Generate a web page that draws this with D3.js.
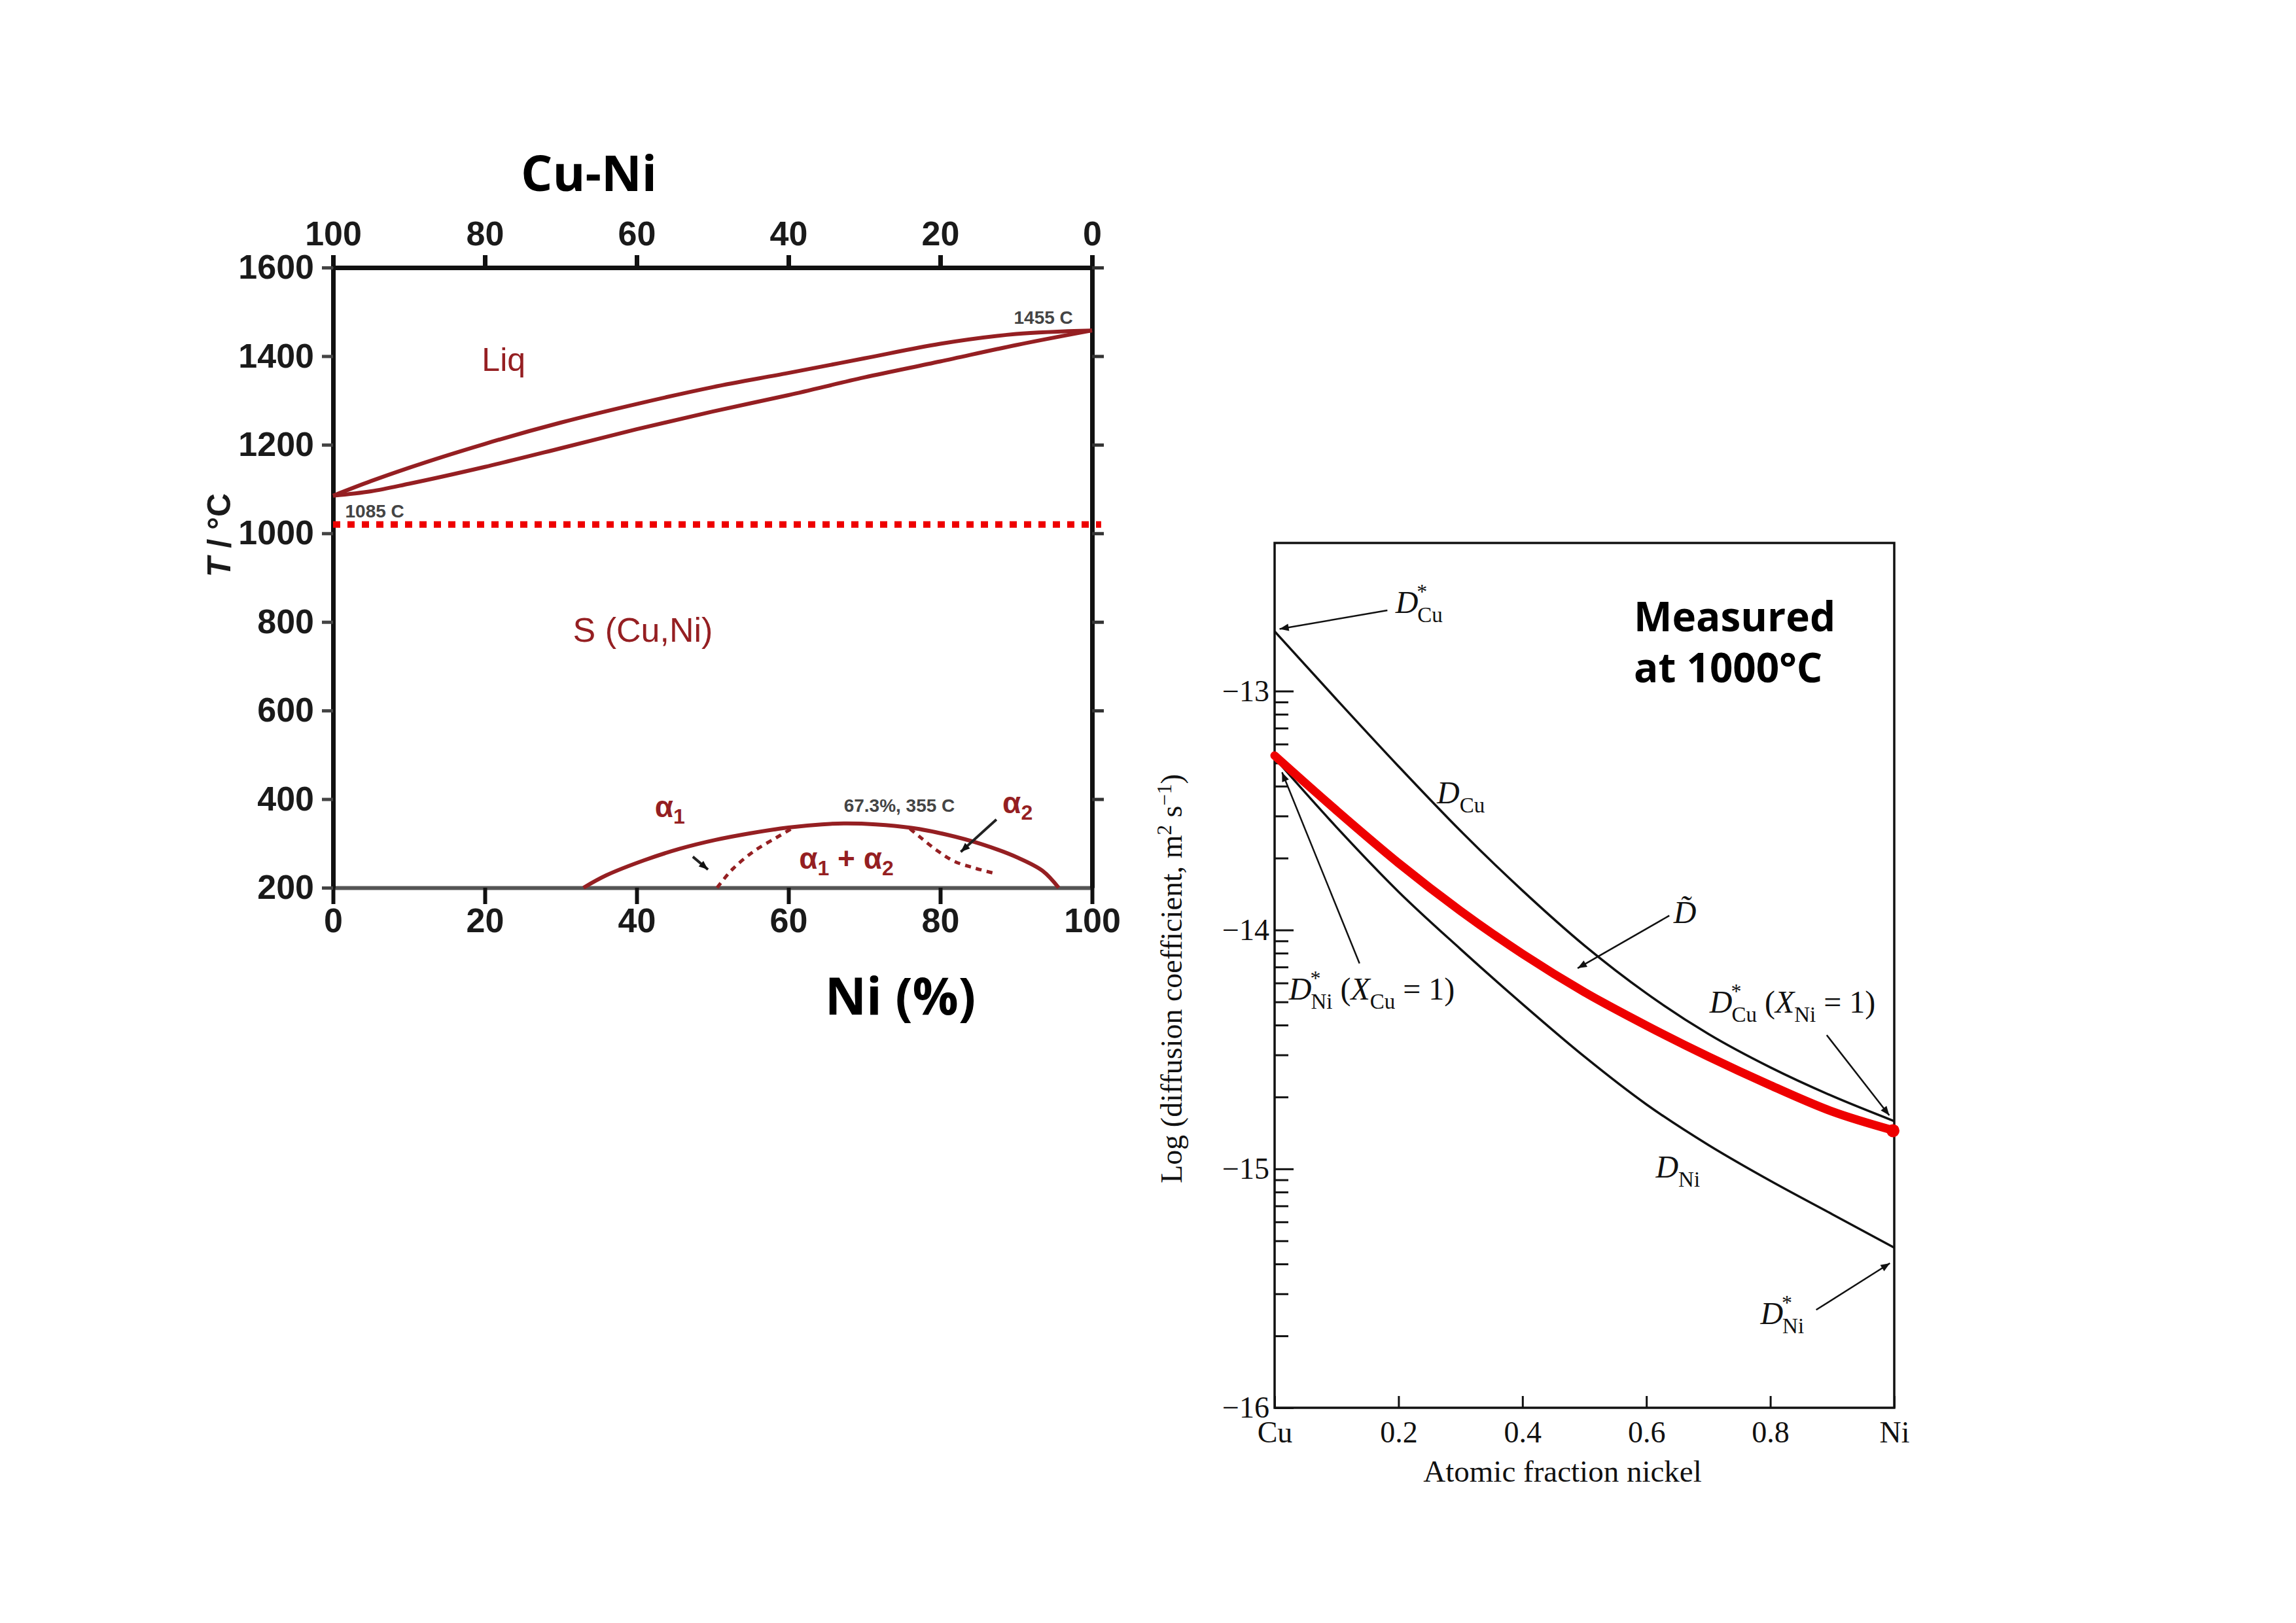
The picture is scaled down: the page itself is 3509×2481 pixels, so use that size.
<!DOCTYPE html>
<html>
<head>
<meta charset="utf-8">
<script src="https://cdn.jsdelivr.net/npm/d3@7"></script>
<style>
body { margin: 0; background: #fff; }
</style>
</head>
<body>
<div id="chart"></div>
<script>
// ---------- Cu-Ni phase diagram (Ni %, T in C) ----------
var niTicks = [0, 20, 40, 60, 80, 100];
var cuTicks = [100, 80, 60, 40, 20, 0];
var tempTicks = [200, 400, 600, 800, 1000, 1200, 1400, 1600];

var liquidus = [[0,1085],[5,1118],[10,1148],[20,1202],[30,1250],[40,1292],[50,1330],[60,1362],[70,1395],[80,1428],[90,1450],[100,1458]];
var solidus  = [[0,1085],[5,1095],[10,1112],[20,1150],[30,1192],[40,1235],[50,1275],[60,1312],[70,1352],[80,1388],[90,1425],[100,1458]];
var gapSolid = [[33,200],[36,228],[41,262],[45.7,288],[50.4,308],[55,323],[60,336],[64.4,343],[67.3,345],[71.5,343],[76.2,335],[80.8,320],[85.5,298],[90.2,268],[93.5,238],[95.6,200]];
var gapDashLeft  = [[50.6,200],[52.7,243],[55.5,283],[58.4,313],[60.5,334]];
var gapDashRight = [[76,333],[77.5,312],[79.5,285],[81.8,260],[84.6,244],[87,233]];
var isotherm = [[0,1020],[101.2,1020]];

// ---------- diffusion coefficients at 1000 C (atomic fraction Ni, log D) ----------
var fracTicks = [0, 0.2, 0.4, 0.6, 0.8, 1];
var fracLabels = ["Cu", "0.2", "0.4", "0.6", "0.8", "Ni"];
var logTicks = [-13, -14, -15, -16];

var dCu    = [[0,-12.75],[0.1,-13.035],[0.2,-13.315],[0.3,-13.585],[0.4,-13.835],[0.5,-14.065],[0.6,-14.265],[0.7,-14.435],[0.8,-14.575],[0.9,-14.695],[1.0,-14.80]];
var dNi    = [[0,-13.28],[0.1,-13.57],[0.2,-13.84],[0.3,-14.08],[0.4,-14.31],[0.5,-14.53],[0.6,-14.73],[0.7,-14.90],[0.8,-15.05],[0.9,-15.19],[1.0,-15.33]];
var dTilde = [[0,-13.27],[0.1,-13.50],[0.2,-13.72],[0.3,-13.92],[0.4,-14.10],[0.5,-14.26],[0.6,-14.40],[0.7,-14.53],[0.8,-14.65],[0.9,-14.76],[1.0,-14.84]];

var W = 3509, H = 2481;
var phaseRed = "#951f22";

var svg = d3.select("#chart").append("svg")
    .attr("width", W)
    .attr("height", H)
    .style("background", "#fff");

var defs = svg.append("defs");
defs.append("marker")
    .attr("id", "arrow")
    .attr("viewBox", "0 0 10 10")
    .attr("refX", 10)
    .attr("refY", 5)
    .attr("markerUnits", "userSpaceOnUse")
    .attr("markerWidth", 24)
    .attr("markerHeight", 14)
    .attr("orient", "auto")
    .append("path")
    .attr("d", "M0,1 L10,5 L0,9 Z")
    .attr("fill", "#111");

drawPhaseDiagram();
drawDiffusion();

function styleAxis(g, width, color) {
    g.select(".domain").attr("stroke", color).attr("stroke-width", width);
    g.selectAll(".tick line").attr("stroke", color).attr("stroke-width", width);
}

function drawPhaseDiagram() {
    var x = d3.scaleLinear().domain([0, 100]).range([509, 1669]);
    var xCu = d3.scaleLinear().domain([100, 0]).range([509, 1669]);
    var y = d3.scaleLinear().domain([200, 1600]).range([1357, 409]);

    var g = svg.append("g").attr("class", "phase");
    var tickFont = "'Liberation Sans', Arial, sans-serif";

    var bottom = g.append("g")
        .attr("transform", "translate(0," + y(200) + ")")
        .call(d3.axisBottom(x).tickValues(niTicks).tickSize(25).tickSizeOuter(0).tickPadding(6));
    styleAxis(bottom, 6, "#111");
    bottom.select(".domain").attr("stroke", "#555");

    var top = g.append("g")
        .attr("transform", "translate(0," + y(1600) + ")")
        .call(d3.axisTop(xCu).tickValues(cuTicks).tickSize(19).tickSizeOuter(0).tickPadding(15));
    styleAxis(top, 7, "#111");

    var left = g.append("g")
        .attr("transform", "translate(" + x(0) + ",0)")
        .call(d3.axisLeft(y).tickValues(tempTicks).tickSize(17).tickSizeOuter(0).tickPadding(12)
            .tickFormat(d3.format("d")));
    styleAxis(left, 7, "#111");
    left.selectAll(".tick line").attr("stroke", "#444").attr("stroke-width", 5);

    var right = g.append("g")
        .attr("transform", "translate(" + x(100) + ",0)")
        .call(d3.axisRight(y).tickValues(tempTicks.slice(1)).tickSize(18).tickSizeOuter(0).tickFormat(""));
    styleAxis(right, 7, "#111");
    right.selectAll(".tick line").attr("stroke", "#333").attr("stroke-width", 5);

    g.selectAll(".tick text")
        .attr("font-family", tickFont)
        .attr("font-weight", "bold")
        .attr("font-size", 52)
        .attr("fill", "#1a1a1a");

    var line = d3.line()
        .x(function(d){ return x(d[0]); })
        .y(function(d){ return y(d[1]); })
        .curve(d3.curveMonotoneX);

    var lineCR = d3.line()
        .x(function(d){ return x(d[0]); })
        .y(function(d){ return y(d[1]); })
        .curve(d3.curveCatmullRom);

    g.selectAll(".boundary")
        .data([liquidus, solidus])
        .enter()
        .append("path")
        .attr("class", "boundary")
        .attr("d", line)
        .attr("fill", "none")
        .attr("stroke", phaseRed)
        .attr("stroke-width", 6);

    g.append("path")
        .datum(gapSolid)
        .attr("d", lineCR)
        .attr("fill", "none")
        .attr("stroke", phaseRed)
        .attr("stroke-width", 6);

    g.selectAll(".spinodal")
        .data([gapDashLeft, gapDashRight])
        .enter()
        .append("path")
        .attr("class", "spinodal")
        .attr("d", lineCR)
        .attr("fill", "none")
        .attr("stroke", phaseRed)
        .attr("stroke-width", 5)
        .attr("stroke-dasharray", "9,8");

    g.append("path")
        .datum(isotherm)
        .attr("d", d3.line().x(function(d){ return x(d[0]); }).y(function(d){ return y(d[1]); }))
        .attr("stroke", "#ee0000")
        .attr("stroke-width", 10)
        .attr("stroke-dasharray", "11,11");

    // phase labels
    var labels = [
        {t: "Liq", x: 19.6, y: 1367, size: 50},
        {t: "S (Cu,Ni)", x: 31.6, y: 755, size: 52}
    ];
    g.selectAll(".phase-label")
        .data(labels)
        .enter()
        .append("text")
        .attr("class", "phase-label")
        .attr("x", function(d){ return x(d.x); })
        .attr("y", function(d){ return y(d.y); })
        .attr("font-family", tickFont)
        .attr("font-size", function(d){ return d.size; })
        .attr("fill", phaseRed)
        .text(function(d){ return d.t; });

    var alphaLabels = [
        {x: 42.4, y: 360, parts: [["α",""],["1","sub"]]},
        {x: 88.2, y: 368, parts: [["α",""],["2","sub"]]},
        {x: 61.4, y: 243, parts: [["α",""],["1","sub"],[" + α",""],["2","sub"]]}
    ];
    alphaLabels.forEach(function(d){
        var t = g.append("text")
            .attr("x", x(d.x))
            .attr("y", y(d.y))
            .attr("font-family", tickFont)
            .attr("font-weight", "bold")
            .attr("font-size", 46)
            .attr("fill", phaseRed);
        var shifted = false;
        d.parts.forEach(function(p){
            var s = t.append("tspan").text(p[0]);
            if (p[1] == "sub") { s.attr("dy", 10).attr("font-size", 32); shifted = true; }
            else if (shifted) { s.attr("dy", -10); shifted = false; }
        });
    });

    var notes = [
        {t: "1085 C", x: 1.6, y: 1036},
        {t: "1455 C", x: 89.7, y: 1473},
        {t: "67.3%, 355 C", x: 67.3, y: 372}
    ];
    g.selectAll(".note")
        .data(notes)
        .enter()
        .append("text")
        .attr("class", "note")
        .attr("x", function(d){ return x(d.x); })
        .attr("y", function(d){ return y(d.y); })
        .attr("font-family", tickFont)
        .attr("font-weight", "bold")
        .attr("font-size", 28)
        .attr("fill", "#444")
        .text(function(d){ return d.t; });

    var pointers = [
        {from: [47.4, 270], to: [49.4, 241]},
        {from: [87.4, 354], to: [82.7, 281]}
    ];
    g.selectAll(".pointer")
        .data(pointers)
        .enter()
        .append("line")
        .attr("class", "pointer")
        .attr("x1", function(d){ return x(d.from[0]); })
        .attr("y1", function(d){ return y(d.from[1]); })
        .attr("x2", function(d){ return x(d.to[0]); })
        .attr("y2", function(d){ return y(d.to[1]); })
        .attr("stroke", "#222")
        .attr("stroke-width", 4)
        .attr("marker-end", "url(#arrow)");

    var bigFont = "'Open Sans', 'DejaVu Sans', sans-serif";
    g.append("text")
        .attr("x", 900)
        .attr("y", 292)
        .attr("text-anchor", "middle")
        .attr("font-family", bigFont)
        .attr("font-weight", "bold")
        .attr("font-size", 76)
        .text("Cu-Ni");

    g.append("text")
        .attr("x", 1376)
        .attr("y", 1551)
        .attr("text-anchor", "middle")
        .attr("font-family", bigFont)
        .attr("font-weight", "bold")
        .attr("font-size", 78)
        .text("Ni (%)");

    var yl = g.append("text")
        .attr("transform", "translate(352,818) rotate(-90)")
        .attr("text-anchor", "middle")
        .attr("font-family", tickFont)
        .attr("font-weight", "bold")
        .attr("font-size", 50)
        .attr("fill", "#1a1a1a");
    yl.append("tspan").attr("font-style", "italic").text("T");
    yl.append("tspan").text(" / °C");
}

function drawDiffusion() {
    var x = d3.scaleLinear().domain([0, 1]).range([1948, 2895]);
    var y = d3.scaleLinear().domain([-16, -12.38]).range([2152, 830]);

    var g = svg.append("g").attr("class", "diffusion");
    var serif = "'Liberation Serif', 'Times New Roman', serif";

    g.append("rect")
        .attr("x", x(0))
        .attr("y", y(-12.38))
        .attr("width", x(1) - x(0))
        .attr("height", y(-16) - y(-12.38))
        .attr("fill", "none")
        .attr("stroke", "#111")
        .attr("stroke-width", 3.5);

    // minor log ticks between decades
    var minor = [];
    logTicks.slice(1).forEach(function(n){
        d3.range(2, 10).forEach(function(k){ minor.push(n + Math.log10(k)); });
    });

    var yMinor = g.append("g")
        .attr("transform", "translate(" + x(0) + ",0)")
        .call(d3.axisLeft(y).tickValues(minor).tickSize(-21).tickSizeOuter(0).tickFormat(""));
    yMinor.select(".domain").remove();
    yMinor.selectAll(".tick line").attr("stroke", "#111").attr("stroke-width", 3);

    var yAxis = g.append("g")
        .attr("transform", "translate(" + x(0) + ",0)")
        .call(d3.axisLeft(y).tickValues(logTicks).tickSize(-29).tickSizeOuter(0).tickPadding(8)
            .tickFormat(d3.format("d")));
    yAxis.select(".domain").remove();
    yAxis.selectAll(".tick line").attr("stroke", "#111").attr("stroke-width", 3);

    var xAxis = g.append("g")
        .attr("transform", "translate(0," + y(-16) + ")")
        .call(d3.axisBottom(x).tickValues(fracTicks).tickSize(-18).tickSizeOuter(0).tickPadding(20)
            .tickFormat(function(d, i){ return fracLabels[i]; }));
    xAxis.select(".domain").remove();
    xAxis.selectAll(".tick line").attr("stroke", "#111").attr("stroke-width", 3);

    g.selectAll(".tick text")
        .attr("font-family", serif)
        .attr("font-size", 46)
        .attr("fill", "#111");

    var line = d3.line()
        .x(function(d){ return x(d[0]); })
        .y(function(d){ return y(d[1]); })
        .curve(d3.curveMonotoneX);

    g.selectAll(".dcurve")
        .data([dCu, dNi])
        .enter()
        .append("path")
        .attr("class", "dcurve")
        .attr("d", line)
        .attr("fill", "none")
        .attr("stroke", "#111")
        .attr("stroke-width", 3.5);

    g.append("path")
        .datum(dTilde)
        .attr("d", line)
        .attr("fill", "none")
        .attr("stroke", "#ee0000")
        .attr("stroke-width", 13)
        .attr("stroke-linecap", "round");

    g.append("circle")
        .attr("cx", x(dTilde[dTilde.length - 1][0]) - 2)
        .attr("cy", y(dTilde[dTilde.length - 1][1]))
        .attr("r", 10)
        .attr("fill", "#ee0000");

    // labelled pointers
    var arrows = [
        {from: [0.182, -12.662], to: [0.008, -12.74]},
        {from: [0.637, -13.94], to: [0.489, -14.16]},
        {from: [0.137, -14.14], to: [0.012, -13.34]},
        {from: [0.891, -14.44], to: [0.992, -14.776]},
        {from: [0.874, -15.59], to: [0.993, -15.395]}
    ];
    g.selectAll(".arrow")
        .data(arrows)
        .enter()
        .append("line")
        .attr("class", "arrow")
        .attr("x1", function(d){ return x(d.from[0]); })
        .attr("y1", function(d){ return y(d.from[1]); })
        .attr("x2", function(d){ return x(d.to[0]); })
        .attr("y2", function(d){ return y(d.to[1]); })
        .attr("stroke", "#111")
        .attr("stroke-width", 2.5)
        .attr("marker-end", "url(#arrow)");

    var dLabels = [
        {x: 0.195, y: -12.673, sub: "Cu", star: true},
        {x: 0.262, y: -13.47, sub: "Cu"},
        {x: 0.644, y: -13.97, sub: "", tilde: true},
        {x: 0.023, y: -14.29, sub: "Ni", star: true, xsub: "Cu"},
        {x: 0.702, y: -14.346, sub: "Cu", star: true, xsub: "Ni"},
        {x: 0.615, y: -15.036, sub: "Ni"},
        {x: 0.784, y: -15.65, sub: "Ni", star: true}
    ];
    dLabels.forEach(function(d){
        var t = g.append("text")
            .attr("x", x(d.x))
            .attr("y", y(d.y))
            .attr("font-family", serif)
            .attr("font-size", 48)
            .attr("fill", "#111");
        t.append("tspan").attr("font-style", "italic").text(d.tilde ? "D\u0303" : "D");
        if (d.star) {
            t.append("tspan").attr("font-size", 32).attr("dx", -2).attr("dy", -22).text("*");
            t.append("tspan").attr("font-size", 33).attr("dx", -15).attr("dy", 36).text(d.sub);
        } else if (d.sub) {
            t.append("tspan").attr("font-size", 33).attr("dy", 14).text(d.sub);
        }
        if (d.xsub) {
            t.append("tspan").attr("dy", -14).text(" (");
            t.append("tspan").attr("font-style", "italic").text("X");
            t.append("tspan").attr("font-size", 33).attr("dy", 14).text(d.xsub);
            t.append("tspan").attr("dy", -14).text(" = 1)");
        }
    });

    g.append("text")
        .attr("x", 2388)
        .attr("y", 2265)
        .attr("text-anchor", "middle")
        .attr("font-family", serif)
        .attr("font-size", 47)
        .attr("fill", "#111")
        .text("Atomic fraction nickel");

    var yl = g.append("text")
        .attr("transform", "translate(1806,1496) rotate(-90)")
        .attr("text-anchor", "middle")
        .attr("font-family", serif)
        .attr("font-size", 46)
        .attr("fill", "#111");
    yl.append("tspan").text("Log (diffusion coefficient, m");
    yl.append("tspan").attr("font-size", 31).attr("dy", -16).text("2");
    yl.append("tspan").attr("dy", 16).text(" s");
    yl.append("tspan").attr("font-size", 31).attr("dy", -16).text("−1");
    yl.append("tspan").attr("dy", 16).text(")");

    var bigFont = "'Open Sans', 'DejaVu Sans', sans-serif";
    var m = g.append("text")
        .attr("font-family", bigFont)
        .attr("font-weight", "bold")
        .attr("font-size", 62)
        .attr("fill", "#000");
    m.append("tspan").attr("x", 2497).attr("y", 965).text("Measured");
    m.append("tspan").attr("x", 2497).attr("y", 1043).text("at 1000°C");
}
</script>
</body>
</html>
